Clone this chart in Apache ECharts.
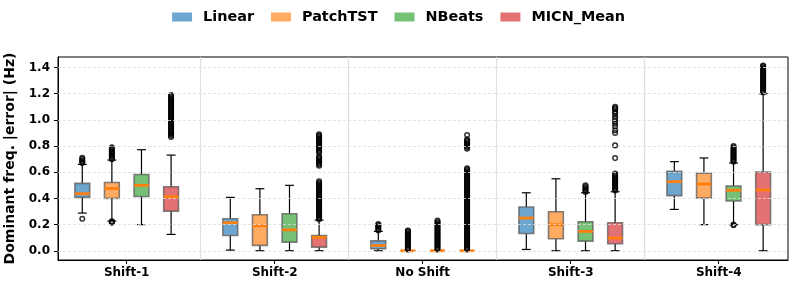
<!DOCTYPE html>
<html>
<head>
<meta charset="utf-8">
<script src="https://cdn.jsdelivr.net/npm/echarts@6/dist/echarts.min.js"></script>
<style>html,body{margin:0;padding:0;background:#fff;}#c{width:797px;height:289px;}</style>
</head>
<body>
<div id="c"></div>
<script>
// ---- data ----
const categories = ['Shift-1', 'Shift-2', 'No Shift', 'Shift-3', 'Shift-4'];
const models = ['Linear', 'PatchTST', 'NBeats', 'MICN_Mean'];
const yTicks = [0.0, 0.2, 0.4, 0.6, 0.8, 1.0, 1.2, 1.4];

// [lowWhisker, q1, median, q3, highWhisker] per category
const linearStats = [
  [0.288, 0.408, 0.436, 0.515, 0.66],
  [0.005, 0.117, 0.214, 0.245, 0.408],
  [0.0, 0.015, 0.04, 0.076, 0.148],
  [0.01, 0.132, 0.25, 0.334, 0.443],
  [0.316, 0.421, 0.528, 0.607, 0.681]
];
const patchStats = [
  [0.227, 0.40, 0.476, 0.522, 0.693],
  [0.0, 0.041, 0.191, 0.275, 0.474],
  [0.0, 0.0, 0.0, 0.0, 0.0],
  [0.0, 0.092, 0.199, 0.298, 0.55],
  [0.20, 0.403, 0.51, 0.592, 0.709]
];
const nbeatsStats = [
  [0.20, 0.415, 0.50, 0.583, 0.772],
  [0.0, 0.066, 0.16, 0.283, 0.50],
  [0.0, 0.0, 0.0, 0.0, 0.0],
  [0.0, 0.074, 0.148, 0.222, 0.443],
  [0.20, 0.38, 0.462, 0.495, 0.671]
];
const micnStats = [
  [0.125, 0.303, 0.413, 0.489, 0.731],
  [0.0, 0.028, 0.102, 0.117, 0.234],
  [0.0, 0.0, 0.0, 0.0, 0.0],
  [0.0, 0.054, 0.097, 0.214, 0.451],
  [0.0, 0.20, 0.464, 0.602, 1.20]
];

// outliers per category
const linearFliers = [
  [0.67, 0.68, 0.69, 0.70, 0.71, 0.245],
  [],
  [0.155, 0.165, 0.175, 0.185, 0.195, 0.205],
  [],
  []
];
const patchFliers = [
  [0.70, 0.71, 0.72, 0.73, 0.74, 0.75, 0.76, 0.77, 0.78, 0.79, 0.225, 0.22, 0.215],
  [],
  [0.01, 0.02, 0.03, 0.04, 0.05, 0.06, 0.07, 0.08, 0.09, 0.10, 0.11, 0.12, 0.13, 0.14, 0.15, 0.155],
  [],
  []
];
const nbeatsFliers = [
  [],
  [],
  [0.01, 0.02, 0.03, 0.04, 0.05, 0.06, 0.07, 0.08, 0.09, 0.10, 0.11, 0.12, 0.13, 0.14, 0.15, 0.16, 0.17, 0.18, 0.19, 0.20, 0.21, 0.22, 0.23],
  [0.45, 0.46, 0.47, 0.48, 0.49, 0.50],
  [0.68, 0.69, 0.70, 0.71, 0.72, 0.73, 0.74, 0.75, 0.76, 0.77, 0.78, 0.79, 0.80, 0.195, 0.20]
];
const micnFliers = [
  [0.87, 0.88, 0.89, 0.90, 0.91, 0.92, 0.93, 0.94, 0.95, 0.96, 0.97, 0.98, 0.99, 1.00, 1.01, 1.02, 1.03, 1.04, 1.05, 1.06, 1.07, 1.08, 1.09, 1.10, 1.11, 1.12, 1.13, 1.14, 1.15, 1.16, 1.17, 1.18, 1.19],
  [0.24, 0.25, 0.26, 0.27, 0.28, 0.29, 0.30, 0.31, 0.32, 0.33, 0.34, 0.35, 0.36, 0.37, 0.38, 0.39, 0.40, 0.41, 0.42, 0.43, 0.44, 0.45, 0.46, 0.47, 0.48, 0.49, 0.50, 0.51, 0.52, 0.53,
   0.65, 0.66, 0.67, 0.68, 0.69, 0.70, 0.71, 0.72, 0.75, 0.76, 0.77, 0.78, 0.79, 0.80, 0.81, 0.82, 0.83, 0.84, 0.85, 0.86, 0.87, 0.88, 0.89],
  [0.01, 0.02, 0.03, 0.04, 0.05, 0.06, 0.07, 0.08, 0.09, 0.10, 0.11, 0.12, 0.13, 0.14, 0.15, 0.16, 0.17, 0.18, 0.19, 0.20,
   0.21, 0.22, 0.23, 0.24, 0.25, 0.26, 0.27, 0.28, 0.29, 0.30, 0.31, 0.32, 0.33, 0.34, 0.35, 0.36, 0.37, 0.38, 0.39, 0.40,
   0.41, 0.42, 0.43, 0.44, 0.45, 0.46, 0.47, 0.48, 0.49, 0.50, 0.51, 0.52, 0.53, 0.54, 0.55, 0.56, 0.57, 0.58, 0.59, 0.60,
   0.61, 0.62, 0.63, 0.78, 0.79, 0.80, 0.81, 0.82, 0.83, 0.84, 0.85, 0.885],
  [0.46, 0.47, 0.48, 0.49, 0.50, 0.51, 0.52, 0.53, 0.54, 0.55, 0.56, 0.57, 0.58, 0.59, 0.708, 0.805,
   0.90, 0.92, 0.95, 0.97, 0.99, 1.01, 1.03, 1.05, 1.06, 1.08, 1.09, 1.10],
  [1.21, 1.22, 1.23, 1.24, 1.25, 1.26, 1.27, 1.28, 1.29, 1.30, 1.31, 1.32, 1.33, 1.34, 1.35, 1.36, 1.37, 1.38, 1.39, 1.40, 1.41, 1.415]
];

// ---- styling / layout ----
const allStats = [linearStats, patchStats, nbeatsStats, micnStats];
const allFliers = [linearFliers, patchFliers, nbeatsFliers, micnFliers];
const colors = ['rgba(31,119,180,0.65)', 'rgba(255,127,14,0.65)', 'rgba(44,160,44,0.65)', 'rgba(214,39,40,0.65)'];
const offsets = [-0.3, -0.1, 0.1, 0.3];
const BOX_W = 0.1;
const FONT = 'DejaVu Sans';

function renderBox(params, api) {
  const x = api.value(0);
  const lo = api.coord([x, api.value(1)]);
  const q1 = api.coord([x, api.value(2)]);
  const md = api.coord([x, api.value(3)]);
  const q3 = api.coord([x, api.value(4)]);
  const hi = api.coord([x, api.value(5)]);
  const w = api.size([BOX_W, 0])[0];
  const cw = w * 0.6;
  const cx = lo[0];
  const fill = api.visual('color');
  const blk = {stroke: '#000', lineWidth: 1.2};
  return {
    type: 'group',
    children: [
      {type: 'line', shape: {x1: cx, y1: q1[1], x2: cx, y2: lo[1]}, style: blk},
      {type: 'line', shape: {x1: cx, y1: q3[1], x2: cx, y2: hi[1]}, style: blk},
      {type: 'line', shape: {x1: cx - cw / 2, y1: lo[1], x2: cx + cw / 2, y2: lo[1]}, style: blk},
      {type: 'line', shape: {x1: cx - cw / 2, y1: hi[1], x2: cx + cw / 2, y2: hi[1]}, style: blk},
      {type: 'rect', shape: {x: cx - w / 2, y: q3[1], width: w, height: q1[1] - q3[1]},
       style: {fill: fill, stroke: 'rgba(90,90,90,0.75)', lineWidth: 1.6}},
      {type: 'line', shape: {x1: cx - w / 2, y1: md[1], x2: cx + w / 2, y2: md[1]},
       style: {stroke: '#ff7f0e', lineWidth: 2.8}}
    ]
  };
}

const series = [];
// background guide lines
series.push({
  type: 'scatter', data: [], silent: true, z: 0,
  markLine: {
    silent: true, symbol: 'none', label: {show: false}, animation: false,
    data: yTicks.map(v => ({yAxis: v, lineStyle: {color: '#dddddd', type: [3, 2], width: 0.8}}))
      .concat([0.5, 1.5, 2.5, 3.5].map(v => ({xAxis: v, lineStyle: {color: '#dedede', type: 'solid', width: 1.2}})))
  }
});
models.forEach((m, mi) => {
  series.push({
    name: m,
    type: 'custom',
    z: 2,
    itemStyle: {color: colors[mi]},
    renderItem: renderBox,
    encode: {x: 0, y: [1, 2, 3, 4, 5]},
    data: allStats[mi].map((s, ci) => [ci + offsets[mi]].concat(s)),
    animation: false
  });
  const pts = [];
  allFliers[mi].forEach((arr, ci) => arr.forEach(v => pts.push([ci + offsets[mi], v])));
  series.push({
    name: m + '_fliers',
    type: 'scatter',
    z: 3,
    symbol: 'circle',
    symbolSize: 4.6,
    itemStyle: {color: 'rgba(255,255,255,0)', borderColor: '#000', borderWidth: 1.5},
    data: pts,
    animation: false
  });
});

const chart = echarts.init(document.getElementById('c'), null, {renderer: 'canvas'});
chart.setOption({
  backgroundColor: '#fff',
  animation: false,
  textStyle: {fontFamily: FONT},
  legend: {
    top: 5,
    left: 'center',
    icon: 'rect',
    itemWidth: 20,
    itemHeight: 9,
    itemGap: 17,
    data: models.map((m, i) => ({name: m, itemStyle: {color: colors[i], borderWidth: 0}})),
    textStyle: {fontFamily: FONT, fontWeight: 'bold', fontSize: 14.4, color: '#000', padding: [0, 0, 0, 6]}
  },
  grid: {left: 58, right: 9, top: 57, bottom: 29, containLabel: false, outerBoundsMode: 'none',
         show: true, borderColor: '#000', borderWidth: 1, backgroundColor: 'transparent'},
  xAxis: {
    type: 'value',
    min: -0.464,
    max: 4.468,
    splitLine: {show: false},
    axisLine: {show: true, onZero: false, lineStyle: {color: '#000', width: 1}},
    axisTick: {show: true, length: 4, lineStyle: {color: '#000'}, customValues: [0, 1, 2, 3, 4]},
    axisLabel: {
      customValues: [0, 1, 2, 3, 4],
      formatter: v => categories[Math.round(v)],
      fontFamily: FONT, fontWeight: 'bold', fontSize: 12, color: '#000', margin: 7
    }
  },
  yAxis: {
    type: 'value',
    min: -0.0705,
    max: 1.4805,
    name: 'Dominant freq. |error| (Hz)',
    nameLocation: 'middle',
    nameGap: 35,
    nameTextStyle: {fontFamily: FONT, fontWeight: 'bold', fontSize: 14, color: '#000'},
    splitLine: {show: false},
    axisLine: {show: true, onZero: false, lineStyle: {color: '#000', width: 1}},
    axisTick: {show: true, length: 4, lineStyle: {color: '#000'}, customValues: yTicks},
    axisLabel: {
      customValues: yTicks,
      formatter: v => v.toFixed(1),
      fontFamily: FONT, fontWeight: 'bold', fontSize: 12, color: '#000', margin: 8
    }
  },
  series: series
});
</script>
</body>
</html>
